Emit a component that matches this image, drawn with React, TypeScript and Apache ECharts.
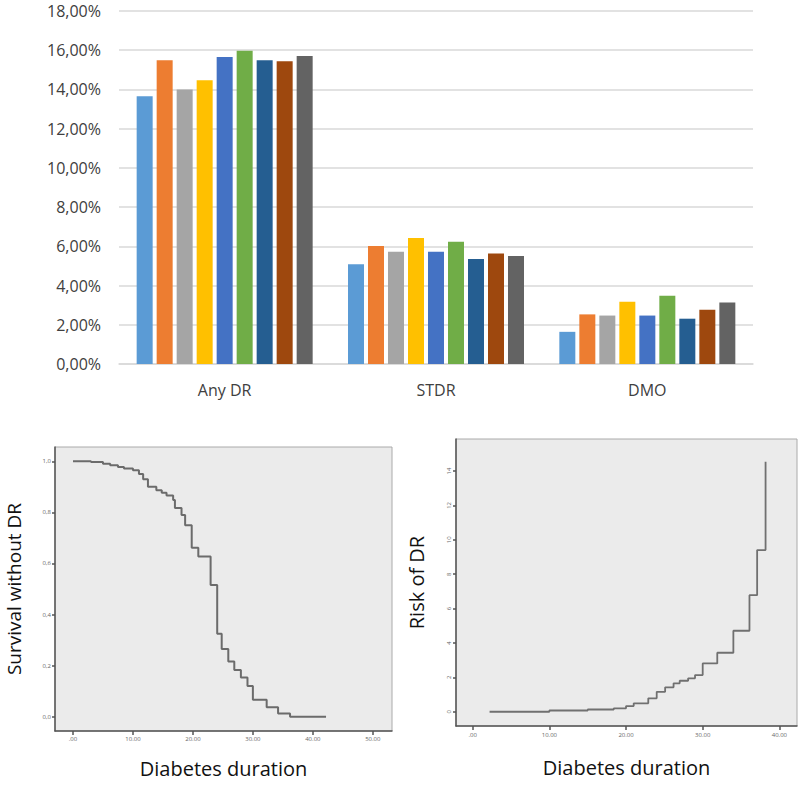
import React, { useEffect, useRef } from 'react';
import * as echarts from 'echarts';

const categories = ['Any DR', 'STDR', 'DMO'];
const bar1 = [13.65, 5.09, 1.64];
const bar2 = [15.49, 6.02, 2.53];
const bar3 = [14.0, 5.73, 2.47];
const bar4 = [14.47, 6.42, 3.17];
const bar5 = [15.65, 5.73, 2.47];
const bar6 = [15.97, 6.23, 3.48];
const bar7 = [15.49, 5.36, 2.31];
const bar8 = [15.44, 5.63, 2.77];
const bar9 = [15.71, 5.51, 3.14];
const barValues = [bar1, bar2, bar3, bar4, bar5, bar6, bar7, bar8, bar9];
const barColors = ['#5B9BD5', '#ED7D31', '#A5A5A5', '#FFC000', '#4472C4', '#70AD47', '#255E91', '#9E480E', '#636363'];
const barYTicks = [0, 2, 4, 6, 8, 10, 12, 14, 16, 18];

const survTime = [0, 3, 5, 6.2, 7.5, 8.5, 10, 11, 11.7, 12.5, 13.9, 14.8, 15.6, 16.7, 17.0, 18.1, 18.7, 19.8, 20.9, 22.95, 24.05, 24.8, 25.9, 26.9, 28.0, 29.1, 30.0, 32.3, 34.2, 36.2, 42.2];
const survValue = [1.0, 0.997, 0.99, 0.985, 0.978, 0.972, 0.965, 0.95, 0.93, 0.9, 0.887, 0.877, 0.866, 0.848, 0.817, 0.79, 0.75, 0.662, 0.627, 0.516, 0.325, 0.265, 0.216, 0.183, 0.153, 0.12, 0.066, 0.037, 0.013, 0.0, 0.0];
const survXTicks = [0, 10, 20, 30, 40, 50];
const survYTicks = [0, 0.2, 0.4, 0.6, 0.8, 1.0];

const riskTime = [2.2, 10, 15, 18.4, 20.0, 21.0, 22.9, 24.0, 25.1, 26.2, 27.0, 28.1, 29.0, 30.0, 31.9, 34.0, 36.1, 37.1, 38.2];
const riskValue = [0, 0.07, 0.13, 0.2, 0.33, 0.49, 0.78, 1.16, 1.42, 1.65, 1.8, 1.94, 2.13, 2.81, 3.43, 4.71, 6.78, 9.4, 14.53];
const riskXTicks = [0, 10, 20, 30, 40];
const riskYTicks = [0, 2, 4, 6, 8, 10, 12, 14];

const FONT = 'Open Sans, Noto Sans, sans-serif';

function xTickFmt(v: number) {
  return v === 0 ? '.00' : v.toFixed(2);
}

export default function App() {
  const ref = useRef<HTMLDivElement>(null);
  useEffect(() => {
    const chart = echarts.init(ref.current!, null, { renderer: 'svg' });
    const smallLabel = { fontSize: 6, color: '#666', fontFamily: FONT };
    const option: any = {
      animation: false,
      textStyle: { fontFamily: FONT },
      grid: [
        { left: 119, right: 47, top: 11, bottom: 421 },
        { left: 55, right: 408, top: 447, bottom: 54, show: true, backgroundColor: '#ebebeb', borderColor: '#aaa', borderWidth: 1 },
        { left: 456, right: 3, top: 439, bottom: 59, show: true, backgroundColor: '#ebebeb', borderColor: '#aaa', borderWidth: 1 },
      ],
      xAxis: [
        {
          type: 'category', gridIndex: 0, data: categories,
          axisTick: { show: false },
          axisLine: { lineStyle: { color: '#d9d9d9', width: 1.5 } },
          axisLabel: { fontSize: 16, color: '#404040', margin: 18, fontFamily: FONT },
        },
        {
          type: 'value', gridIndex: 1, min: -3, max: 53.2,
          splitLine: { show: false },
          axisLine: { onZero: false, lineStyle: { color: '#555', width: 1.5 } },
          axisTick: { show: true, customValues: survXTicks, length: 4, lineStyle: { color: '#555', width: 1.5 } },
          axisLabel: { ...smallLabel, customValues: survXTicks, formatter: xTickFmt, margin: 5 },
          name: 'Diabetes duration', nameLocation: 'middle', nameGap: 27,
          nameTextStyle: { fontSize: 20, color: '#111', fontFamily: FONT },
        },
        {
          type: 'value', gridIndex: 2, min: -2.18, max: 42.3,
          splitLine: { show: false },
          axisLine: { onZero: false, lineStyle: { color: '#555', width: 1.5 } },
          axisTick: { show: true, customValues: riskXTicks, length: 4, lineStyle: { color: '#555', width: 1.5 } },
          axisLabel: { ...smallLabel, customValues: riskXTicks, formatter: xTickFmt, margin: 6 },
          name: 'Diabetes duration', nameLocation: 'middle', nameGap: 31,
          nameTextStyle: { fontSize: 20, color: '#111', fontFamily: FONT },
        },
      ],
      yAxis: [
        {
          type: 'value', gridIndex: 0, min: barYTicks[0], max: barYTicks[barYTicks.length - 1], interval: 2,
          axisLine: { show: false }, axisTick: { show: false },
          splitLine: { lineStyle: { color: '#d9d9d9', width: 1.5 } },
          axisLabel: {
            fontSize: 16, color: '#404040', margin: 18, fontFamily: FONT,
            formatter: (v: number) => v.toFixed(2).replace('.', ',') + '%',
          },
        },
        {
          type: 'value', gridIndex: 1, min: -0.056, max: 1.056,
          splitLine: { show: false },
          axisLine: { show: true, onZero: false, lineStyle: { color: '#555', width: 1.5 } },
          axisTick: { show: true, customValues: survYTicks, length: 3, lineStyle: { color: '#555', width: 1.5 } },
          axisLabel: { ...smallLabel, customValues: survYTicks, formatter: (v: number) => v.toFixed(1).replace('.', ','), margin: 4 },
          name: 'Survival without DR', nameLocation: 'middle', nameGap: 32, nameRotate: 90,
          nameTextStyle: { fontSize: 19, color: '#111', fontFamily: FONT },
        },
        {
          type: 'value', gridIndex: 2, min: -0.83, max: 15.86,
          splitLine: { show: false },
          axisLine: { show: true, onZero: false, lineStyle: { color: '#555', width: 1.5 } },
          axisTick: { show: true, customValues: riskYTicks, length: 3, lineStyle: { color: '#555', width: 1.5 } },
          axisLabel: { ...smallLabel, customValues: riskYTicks, rotate: 90, margin: 4 },
          name: 'Risk of DR', nameLocation: 'middle', nameGap: 30, nameRotate: 90,
          nameTextStyle: { fontSize: 20, color: '#111', fontFamily: FONT },
        },
      ],
      series: [
        ...barValues.map((vals, i) => ({
          type: 'bar', xAxisIndex: 0, yAxisIndex: 0, data: vals,
          barWidth: 16, barGap: '25%',
          itemStyle: { color: barColors[i] },
        })),
        {
          type: 'line', xAxisIndex: 1, yAxisIndex: 1, step: 'end', symbol: 'none',
          lineStyle: { color: '#6b6b6b', width: 2 },
          data: survTime.map((t, i) => [t, survValue[i]]),
        },
        {
          type: 'line', xAxisIndex: 2, yAxisIndex: 2, step: 'end', symbol: 'none',
          lineStyle: { color: '#707070', width: 1.8 },
          data: riskTime.map((t, i) => [t, riskValue[i]]),
        },
      ],
    };
    chart.setOption(option);
    return () => chart.dispose();
  }, []);
  return <div ref={ref} style={{ position: 'absolute', left: 0, top: 0, width: 800, height: 785 }} />;
}
